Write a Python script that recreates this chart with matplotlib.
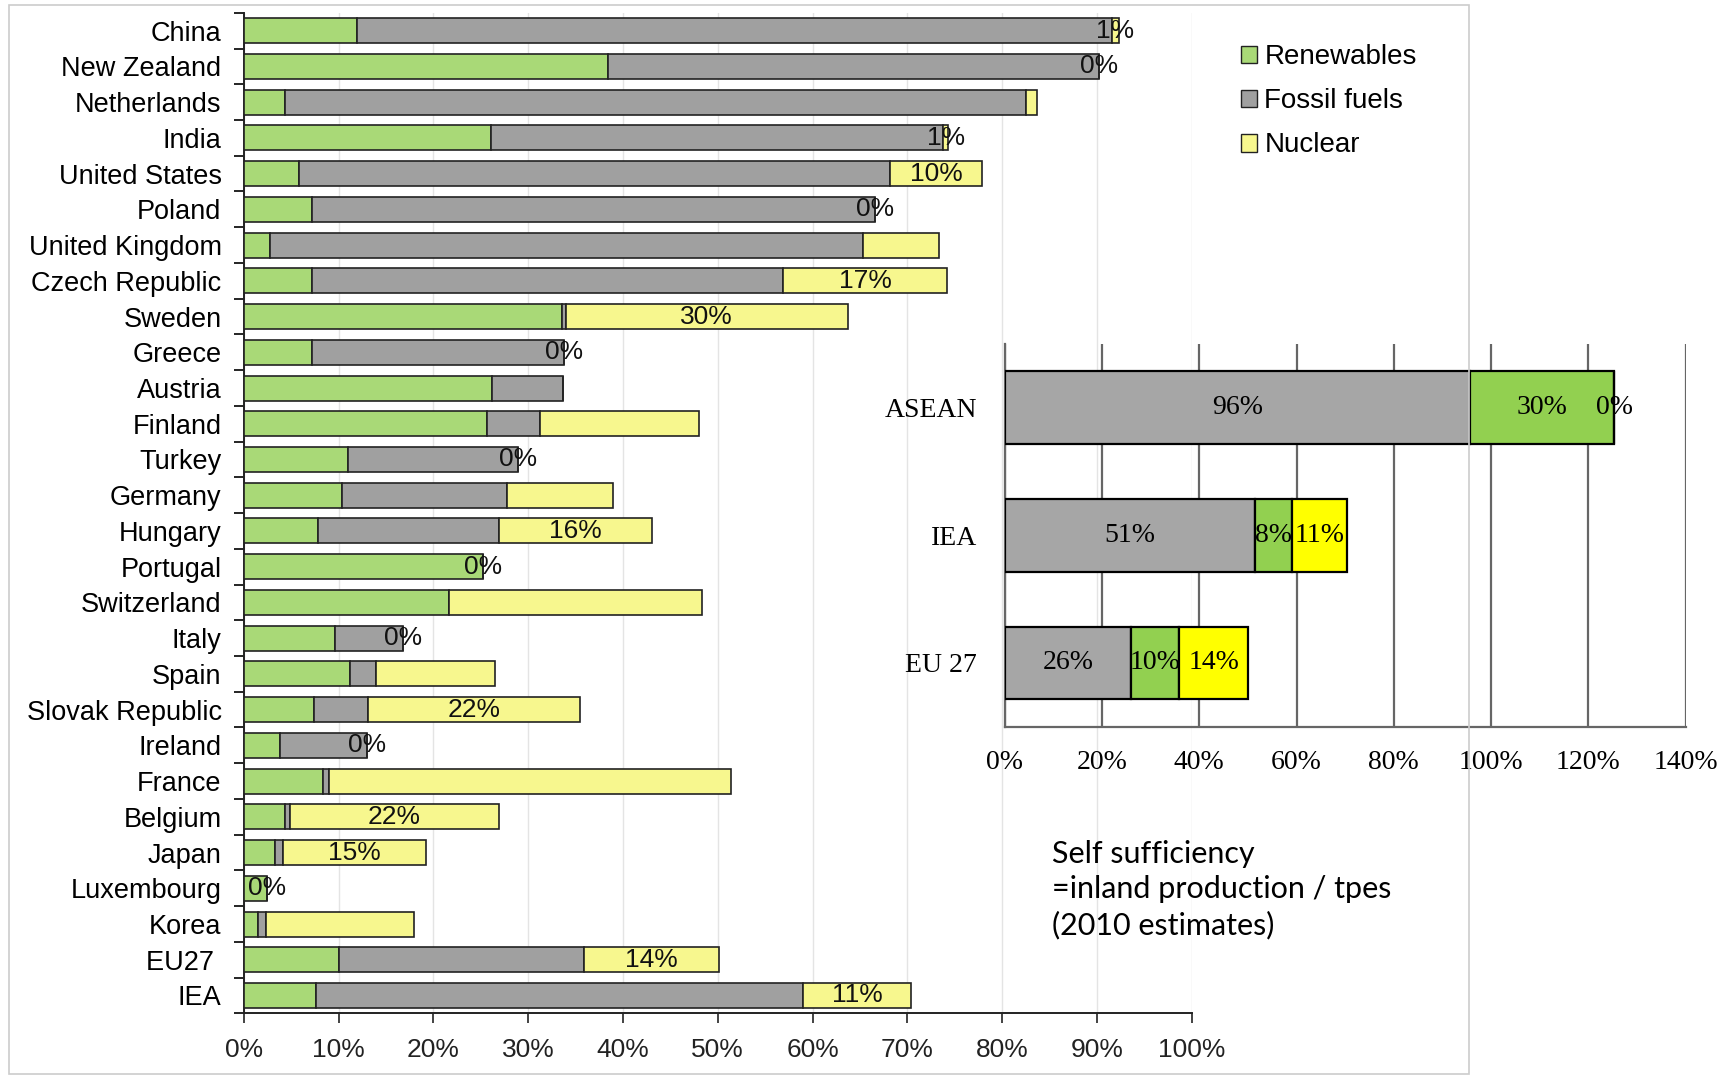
import matplotlib
matplotlib.use("Agg")
import matplotlib.pyplot as plt
from matplotlib.patches import Rectangle
import numpy as np

countries = ["China", "New Zealand", "Netherlands", "India", "United States", "Poland",
             "United Kingdom", "Czech Republic", "Sweden", "Greece", "Austria", "Finland",
             "Turkey", "Germany", "Hungary", "Portugal", "Switzerland", "Italy", "Spain",
             "Slovak Republic", "Ireland", "France", "Belgium", "Japan", "Luxembourg",
             "Korea", "EU27 ", "IEA"]
renewables = [11.9, 38.4, 4.3, 26.1, 5.8, 7.2, 2.8, 7.2, 33.6, 7.2, 26.2, 25.7,
              11.0, 10.4, 7.8, 25.2, 21.6, 9.6, 11.2, 7.4, 3.8, 8.3, 4.3, 3.3, 2.4,
              1.5, 10.0, 7.6]
fossil = [79.7, 51.8, 78.2, 47.7, 62.4, 59.4, 62.5, 49.7, 0.4, 26.6, 7.5, 5.6,
          17.9, 17.4, 19.1, 0.0, 0.0, 7.2, 2.7, 5.7, 9.2, 0.7, 0.6, 0.8, 0.0,
          0.8, 25.9, 51.4]
nuclear = [0.7, 0.0, 1.2, 0.5, 9.7, 0.0, 8.0, 17.3, 29.7, 0.0, 0.0, 16.7,
           0.0, 11.1, 16.2, 0.0, 26.7, 0.0, 12.6, 22.4, 0.0, 42.4, 22.0, 15.1, 0.0,
           15.7, 14.2, 11.4]
nuclear_labels = ["1%", "0%", "", "1%", "10%", "0%", "", "17%", "30%", "0%", "", "",
                  "0%", "", "16%", "0%", "", "0%", "", "22%", "0%", "", "22%", "15%", "0%",
                  "", "14%", "11%"]
xticks_left = [0, 10, 20, 30, 40, 50, 60, 70, 80, 90, 100]

regions = ["ASEAN", "IEA", "EU 27"]
reg_fossil = [95.7, 51.4, 25.9]
reg_renew = [29.6, 7.6, 10.0]
reg_nuclear = [0.0, 11.4, 14.2]
reg_fossil_lbl = ["96%", "51%", "26%"]
reg_renew_lbl = ["30%", "8%", "10%"]
reg_nuclear_lbl = ["0%", "11%", "14%"]
xticks_inset = [0, 20, 40, 60, 80, 100, 120, 140]

c_ren = "#a9d977"
c_fos = "#a0a0a0"
c_nuc = "#f7f78e"

sans = "Liberation Sans"
serif = "Liberation Serif"

fig = plt.figure(figsize=(17.22, 10.77), dpi=100)
fig.patches.append(Rectangle((0.005, 0.003), 0.848, 0.992, transform=fig.transFigure,
                             fill=False, edgecolor="#cccccc", lw=1.2))

# main chart
ax = fig.add_axes([0.1416, 0.0591, 0.5504, 0.929])
y = np.arange(len(countries))
ren = np.array(renewables)
fos = np.array(fossil)
nuc = np.array(nuclear)
h = 0.7
ax.barh(y, ren, height=h, color=c_ren, edgecolor="#222222", lw=1.2, label="Renewables", zorder=3)
ax.barh(y, fos, left=ren, height=h, color=c_fos, edgecolor="#222222", lw=1.2, label="Fossil fuels", zorder=3)
ax.barh(y, nuc, left=ren + fos, height=h, color=c_nuc, edgecolor="#222222", lw=1.2, label="Nuclear", zorder=3)
for i, lbl in enumerate(nuclear_labels):
    if lbl:
        ax.text(ren[i] + fos[i] + nuc[i] / 2, y[i], lbl, ha="center", va="center",
                fontsize=19, family=sans, color="#111111", zorder=4)

ax.set_ylim(len(countries) - 0.5, -0.5)
ax.set_xlim(0, 100)
ax.set_yticks(y)
ax.set_yticklabels(countries, family=sans, fontsize=19.5)
ax.set_yticks(np.arange(-0.5, len(countries), 1), minor=True)
ax.tick_params(axis="y", which="major", length=0, pad=16)
ax.tick_params(axis="y", which="minor", length=7, width=1.2, direction="out")
ax.set_xticks(xticks_left)
ax.set_xticklabels([f"{v}%" for v in xticks_left], family=sans, fontsize=19)
ax.tick_params(axis="x", length=7, width=1.2, pad=11, colors="#222222")
ax.grid(axis="x", color="#e4e4e4", lw=1, zorder=0)
for s in ["top", "right"]:
    ax.spines[s].set_visible(False)
for s in ["left", "bottom"]:
    ax.spines[s].set_linewidth(1.4)
    ax.spines[s].set_color("#222222")

leg = fig.legend(loc="upper left", bbox_to_anchor=(0.706, 0.982), frameon=False,
                 prop={"family": sans, "size": 20}, handlelength=0.6, handleheight=0.6,
                 handletextpad=0.25, labelspacing=0.65)
for p in leg.get_patches():
    p.set_linewidth(1.0)

# inset chart
ax2 = fig.add_axes([0.5835, 0.3252, 0.3954, 0.3557])
ax2.patch.set_alpha(0)
yr = np.arange(len(regions))
rf = np.array(reg_fossil)
rr = np.array(reg_renew)
rn = np.array(reg_nuclear)
hh = 0.57
ax2.barh(yr, rf, height=hh, color="#a6a6a6", edgecolor="black", lw=1.6, zorder=3)
ax2.barh(yr, rr, left=rf, height=hh, color="#92d050", edgecolor="black", lw=1.6, zorder=3)
ax2.barh(yr, rn, left=rf + rr, height=hh, color="#ffff00", edgecolor="black", lw=1.6, zorder=3)
for i in range(len(regions)):
    ax2.text(rf[i] / 2, yr[i], reg_fossil_lbl[i], ha="center", va="center", fontsize=20, family=serif, zorder=4)
    ax2.text(rf[i] + rr[i] / 2, yr[i], reg_renew_lbl[i], ha="center", va="center", fontsize=20, family=serif, zorder=4)
    ax2.text(rf[i] + rr[i] + rn[i] / 2, yr[i], reg_nuclear_lbl[i], ha="center", va="center", fontsize=20, family=serif, zorder=4)
ax2.set_xlim(0, 140)
ax2.set_ylim(len(regions) - 0.5, -0.5)
ax2.set_yticks(yr)
ax2.set_yticklabels(regions, family=serif, fontsize=20)
ax2.set_xticks(xticks_inset)
ax2.set_xticklabels([f"{v}%" for v in xticks_inset], family=serif, fontsize=20)
ax2.tick_params(axis="both", length=0)
ax2.tick_params(axis="y", pad=20)
ax2.tick_params(axis="x", pad=17)
ax2.grid(axis="x", color="#666666", lw=1.6, zorder=0)
for s in ["top", "right"]:
    ax2.spines[s].set_visible(False)
for s in ["left", "bottom"]:
    ax2.spines[s].set_color("#666666")
    ax2.spines[s].set_linewidth(1.6)

fig.text(0.611, 0.174, "Self sufficiency\n=inland production / tpes\n(2010 estimates)",
         family="Lato", fontsize=22, ha="left", va="center", linespacing=1.33)

fig.savefig("out.png", dpi=100)
